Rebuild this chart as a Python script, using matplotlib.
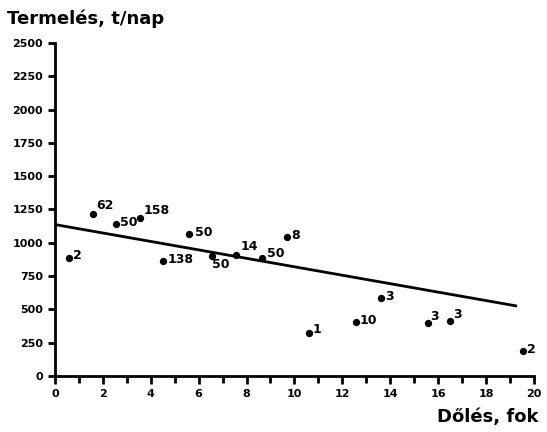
import matplotlib
matplotlib.use('Agg')
import matplotlib.pyplot as plt
import numpy as np

# --- Data ---
dip = [0.58, 1.6, 2.55, 3.57, 5.61, 4.53, 6.55, 7.57, 8.64, 9.68,
       10.6, 12.56, 13.6, 15.57, 16.5, 19.55]
output = [887, 1213, 1142, 1183, 1063, 865, 900, 910, 883, 1040,
          320, 407, 583, 400, 410, 190]
counts = ['2', '62', '50', '158', '50', '138', '50', '14', '50', '8',
          '1', '10', '3', '3', '3', '2']
trend_x = [0, 19.24]
trend_y = [1137, 527]

# label offsets (points) for each annotation
offsets = [(3, -3), (2, 2), (3, -4), (2, 1), (4, -3), (3, -4), (0, -11),
           (3, 1), (4, -1), (3, -3), (3, -2), (3, -4), (3, -3), (2, 0),
           (2, 0), (3, -4)]

plt.rcParams['font.family'] = 'DejaVu Sans'
plt.rcParams['font.weight'] = 'bold'

fig = plt.figure(figsize=(5.47, 4.32), dpi=100)
ax = fig.add_axes([0.1005, 0.1296, 0.8755, 0.7709])

ax.plot(trend_x, trend_y, color='black', lw=2)
ax.scatter(dip, output, s=18, color='black', zorder=3)
for x, y, t, (dx, dy) in zip(dip, output, counts, offsets):
    ax.annotate(t, (x, y), xytext=(dx, dy), textcoords='offset points',
                fontsize=9, fontweight='bold', ha='left', va='bottom')

ax.set_xlim(0, 20)
ax.set_ylim(0, 2500)
ax.spines['top'].set_visible(False)
ax.spines['right'].set_visible(False)
ax.spines['left'].set_linewidth(2)
ax.spines['bottom'].set_linewidth(2)

ax.set_xticks(np.arange(0, 21, 2))
ax.set_xticks(np.arange(0, 21, 1), minor=True)
ax.set_yticks(np.arange(0, 2501, 250))
ax.tick_params(axis='both', which='both', direction='out', width=2,
               labelsize=8)
ax.tick_params(axis='x', which='major', length=6)
ax.tick_params(axis='x', which='minor', length=5)
ax.tick_params(axis='y', length=5)

fig.text(0.012, 0.935, 'Termelés, t/nap', fontsize=13, fontweight='bold',
         ha='left', va='bottom')
fig.text(0.985, 0.015, 'Dőlés, fok', fontsize=13, fontweight='bold',
         ha='right', va='bottom')

fig.savefig('out.png', dpi=100)
